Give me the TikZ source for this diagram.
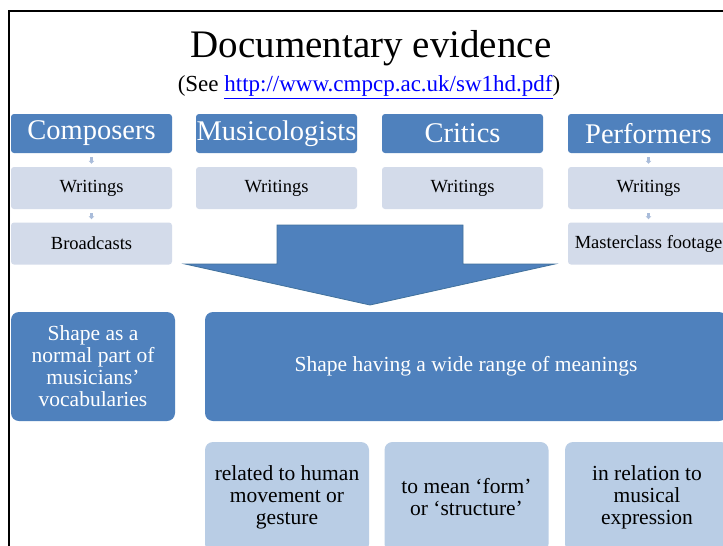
\documentclass[tikz,border=0pt]{standalone}
\usepackage{fontspec}
\setmainfont{Liberation Serif}
\usepackage{xcolor}
\usepackage{tikz}
\usetikzlibrary{arrows.meta}
\definecolor{hdblue}{HTML}{4F81BD}
\definecolor{paleblue}{HTML}{D3DBEA}
\definecolor{midblue}{HTML}{B9CDE5}
\definecolor{stubblue}{HTML}{A9BCDA}
\definecolor{arrowline}{HTML}{41719C}
\definecolor{linkblue}{HTML}{0000FF}

\tikzset{
  head/.style = {rectangle, rounded corners = 3pt, fill = hdblue, text = white, minimum width = 161pt, minimum height = 39pt, inner sep = 0pt, font = \fontsize{28.5}{32}\selectfont},
  source/.style = {rectangle, rounded corners = 3pt, fill = paleblue, minimum width = 161pt, minimum height = 42pt, inner sep = 0pt, font = \fontsize{18.5}{20}\selectfont},
  theme/.style = {rectangle, rounded corners = 8pt, fill = hdblue, text = white, minimum height = 109pt, inner sep = 0pt, align = center, font = \fontsize{21.5}{22}\selectfont},
  facet/.style = {rectangle, rounded corners = 8pt, fill = midblue, minimum width = 164pt, minimum height = 110pt, inner sep = 0pt, align = center, font = \fontsize{21.5}{22}\selectfont},
  stub/.style = {-{Latex[length = 3pt, width = 6.5pt]}, draw = stubblue, line width = 2.5pt, shorten < = 4pt, shorten > = 3pt}
}

\begin{document}
\begin{tikzpicture}[x = 1pt, y = -1pt]
\useasboundingbox (0, 0) rectangle (723, 546);
\clip (0, 0) rectangle (723, 546);
\fill [white] (0, 0) rectangle (723, 546);
\draw [line width = 2pt] (9, 546) -- (9, 11) -- (723, 11);

\node [font = \fontsize{39}{42}\selectfont] (title) at (371, 48) {Documentary evidence};
\node [font = \fontsize{23}{26}\selectfont] (see) at (369, 87) {(See \textcolor{linkblue}{\underline{http://www.cmpcp.ac.uk/sw1hd.pdf}})};

\node [head] (C) at (91.5, 133.5) {Composers};
\node [head] (M) at (276.5, 133.5) {Musicologists};
\node [head] (K) at (462.5, 133.5) {Critics};
\node [head] (P) at (648.5, 133.5) {Performers};
\node [source] (CW) at (91.5, 188) {Writings};
\node [source] (MW) at (276.5, 188) {Writings};
\node [source] (KW) at (462.5, 188) {Writings};
\node [source] (PW) at (648.5, 188) {Writings};
\node [source] (CB) at (91.5, 243.5) {Broadcasts};
\node [source] (PM) at (648.5, 243.5) {Masterclass footage};
\draw [stub] (C) to (CW);
\draw [stub] (CW) to (CB);
\draw [stub] (P) to (PW);
\draw [stub] (PW) to (PM);

\draw [fill = hdblue, draw = arrowline, line width = 0.8pt] (277, 225) -- (463, 225) -- (463, 264) -- (555, 264) -- (370, 305) -- (185, 264) -- (277, 264) -- cycle;

\node [theme, minimum width = 164pt] (normal) at (93, 366.5) {Shape as a\\normal part of\\musicians'\\vocabularies};
\node [theme, minimum width = 522pt] (range) at (466, 366.5) {Shape having a wide range of meanings};

\node [facet] (gesture) at (287, 497) {related to human\\movement or\\gesture};
\node [facet] (form) at (466.5, 497) {to mean `form'\\or `structure'};
\node [facet] (expr) at (647, 497) {in relation to\\musical\\expression};
\end{tikzpicture}
\end{document}
